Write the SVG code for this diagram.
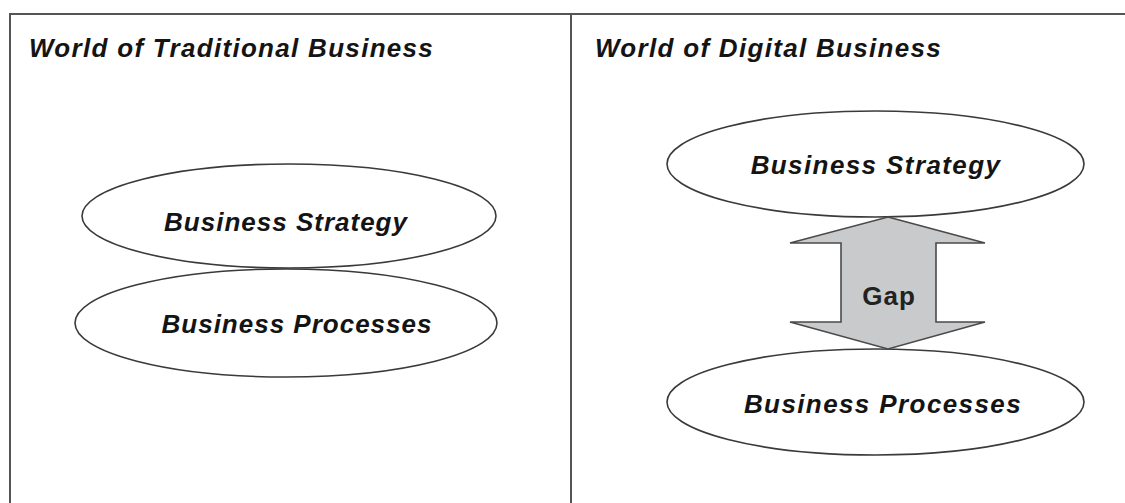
<svg xmlns="http://www.w3.org/2000/svg" width="1125" height="503" viewBox="0 0 1125 503">
<style>
.frame{stroke:#555;stroke-width:2;fill:none}
.node{fill:#fff;stroke:#3a3a3a;stroke-width:1.6}
.lbl{font-family:"Liberation Sans",Arial,sans-serif;font-weight:bold;font-style:italic;font-size:26px;fill:#141414;letter-spacing:1px}
.lbl2{letter-spacing:1.4px}
.title{font-family:"Liberation Sans",Arial,sans-serif;font-weight:bold;font-style:italic;font-size:26px;fill:#141414;letter-spacing:1.3px}
.gap{fill:#c9cacc;stroke:#4a4a4a;stroke-width:1.6;stroke-linejoin:miter}
.gaplbl{font-family:"Liberation Sans",Arial,sans-serif;font-weight:bold;font-size:26px;fill:#222;letter-spacing:1px}
</style>
<rect width="1125" height="503" fill="#fff"/>
<g id="frame">
<path class="frame" d="M10,14 H1125 M10,13 V503 M571,14 V503"/>
</g>
<g id="titles">
<text class="title" x="29" y="57">World of Traditional Business</text>
<text class="title" x="595" y="57">World of Digital Business</text>
</g>
<g id="trad-strategy">
<ellipse class="node" cx="289" cy="216" rx="207" ry="52"/>
<text class="lbl" x="286" y="231" text-anchor="middle">Business Strategy</text>
</g>
<g id="trad-processes">
<ellipse class="node" cx="286" cy="323" rx="211" ry="54"/>
<text class="lbl" x="297" y="333" text-anchor="middle">Business Processes</text>
</g>
<g id="digital-strategy">
<ellipse class="node" cx="875.5" cy="164" rx="208.5" ry="53"/>
<text class="lbl lbl2" x="876" y="174" text-anchor="middle">Business Strategy</text>
</g>
<g id="digital-processes">
<ellipse class="node" cx="875.5" cy="402" rx="208.5" ry="53"/>
<text class="lbl lbl2" x="883" y="413" text-anchor="middle">Business Processes</text>
</g>
<g id="connectors">
<g id="gap-arrow">
<polygon class="gap" points="888,217 985,243 936,243 936,322 985,322 888,349 790,322 841,322 841,243 790,243"/>
<text class="gaplbl" x="889" y="305" text-anchor="middle">Gap</text>
</g>
</g>
</svg>
